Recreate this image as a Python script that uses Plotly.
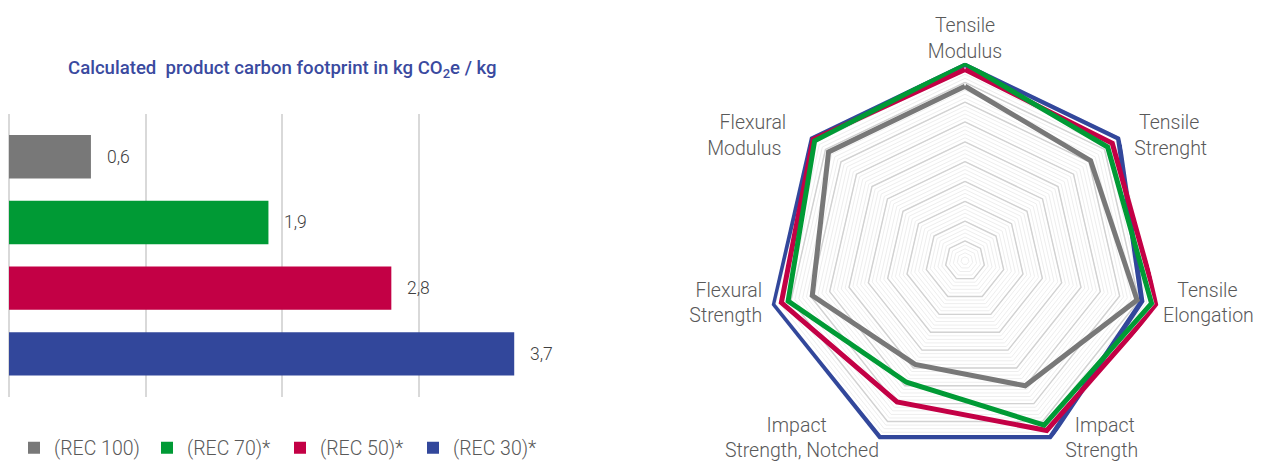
import plotly.graph_objects as go

# ---------------- data ----------------
series_names = ["(REC 100)", "(REC 70)*", "(REC 50)*", "(REC 30)*"]
series_colors = ["#787878", "#009a35", "#c30045", "#32479b"]

# bar chart: calculated product carbon footprint (kg CO2e / kg)
pcf_values = [0.6, 1.9, 2.8, 3.7]

# radar chart: relative property values (0-100)
properties = [
    "Tensile<br>Modulus",
    "Tensile<br>Strenght",
    "Tensile<br>Elongation",
    "Impact<br>Strength",
    "Impact<br>Strength, Notched",
    "Flexural<br>Strength",
    "Flexural<br>Modulus",
]
rec100 = [88, 81, 89, 70, 58, 79, 88]
rec70 = [99.5, 92, 96.5, 92, 68, 91.5, 97]
rec50 = [96.5, 95, 99.5, 95, 79, 95, 98]
rec30 = [99, 99, 91.5, 99, 99, 99.5, 99]
radar_values = [rec100, rec70, rec50, rec30]

FONT = "Roboto, 'Noto Sans', sans-serif"
W, H = 1270, 468
R_MAX = 100      # outer value of the radar grid

fig = go.Figure()

# ---------------- bar chart ----------------
for name, val, col in zip(series_names, pcf_values, series_colors):
    fig.add_trace(go.Bar(
        x=[val], y=[name], orientation="h", name=name,
        marker=dict(color=col, line=dict(width=0)),
        width=0.66, xaxis="x", yaxis="y", showlegend=True,
        hoverinfo="x",
    ))
    fig.add_annotation(
        x=val, y=name, xref="x", yref="y", xanchor="left", yanchor="middle",
        xshift=14, showarrow=False,
        text=f"{val:.1f}".replace(".", ","),
        font=dict(family=FONT, size=17.5, color="#404040", weight=300),
    )

# ---------------- radar chart ----------------
cats_closed = properties + [properties[0]]
for lvl in range(10, R_MAX, 10):
    fig.add_trace(go.Scatterpolar(
        r=[lvl] * (len(properties) + 1), theta=cats_closed, mode="lines",
        line=dict(color="#d2d2d2", width=1.4), hoverinfo="skip",
        showlegend=False, subplot="polar",
    ))

draw_order = [3, 2, 1, 0]
for i in draw_order:
    vals = radar_values[i]
    fig.add_trace(go.Scatterpolar(
        r=vals + [vals[0]], theta=cats_closed, mode="lines",
        name=series_names[i], line=dict(color=series_colors[i], width=5),
        showlegend=False, subplot="polar",
    ))

# category labels placed at the outer ring, nudged outward with spaces
label_pos = ["top center", "middle right", "middle right", "middle right",
             "middle left", "middle left", "middle left"]
label_gap = [0, 3, 1, 3, 0, 2, 5]


def pad_label(txt, pos, n):
    """Push a label away from the ring and roughly centre its lines."""
    lines = txt.split("<br>")
    longest = max(len(ln) for ln in lines)
    out = []
    for ln in lines:
        sp = "\u00a0" * (n + (longest - len(ln)))
        if pos.endswith("right"):
            out.append(sp + ln)
        elif pos.endswith("left"):
            out.append(ln + sp)
        else:
            out.append(ln)
    return "<br>".join(out)


label_text = [pad_label(t, p, n) for t, p, n in zip(properties, label_pos, label_gap)]
fig.add_trace(go.Scatterpolar(
    r=[R_MAX] * len(properties), theta=properties, mode="text",
    text=label_text, textposition=label_pos,
    textfont=dict(family=FONT, size=19.5, color="#595959", weight=300),
    hoverinfo="skip", showlegend=False, subplot="polar", cliponaxis=False,
))

# ---------------- layout ----------------
def px_x(p):
    return p / W


def px_y(p):
    return 1 - p / H


cx, cy, R = 965, 263, 200

fig.update_layout(
    width=W, height=H,
    margin=dict(l=0, r=0, t=0, b=0),
    paper_bgcolor="white", plot_bgcolor="white",
    font=dict(family=FONT, color="#595959"),
    barmode="overlay",
    xaxis=dict(
        domain=[px_x(9), px_x(556)], range=[0, 4.006], dtick=1,
        showgrid=True, gridcolor="#d9d9d9", gridwidth=2,
        zeroline=True, zerolinecolor="#d9d9d9", zerolinewidth=2,
        showticklabels=False, ticks="", showline=False, fixedrange=True,
    ),
    yaxis=dict(
        domain=[px_y(400), px_y(115)], type="category",
        categoryorder="array", categoryarray=series_names,
        range=[3.65, -0.65], showgrid=False, zeroline=False,
        showticklabels=False, ticks="", showline=False, fixedrange=True,
    ),
    polar=dict(
        domain=dict(x=[px_x(cx - R), px_x(cx + R)], y=[px_y(cy + R), px_y(cy - R)]),
        bgcolor="white",
        gridshape="linear",
        radialaxis=dict(
            range=[0, R_MAX], dtick=2,
            showticklabels=False, ticks="",
            showline=False, gridcolor="#eeeeee", gridwidth=1,
        ),
        angularaxis=dict(
            direction="clockwise", rotation=90, showgrid=False, showline=False,
            ticks="", showticklabels=False,
            categoryorder="array", categoryarray=properties,
        ),
    ),
    legend=dict(
        orientation="h", x=px_x(14), xanchor="left", y=px_y(452), yanchor="middle",
        font=dict(family=FONT, size=19.5, color="#595959", weight=300),
        traceorder="normal", itemclick=False, itemdoubleclick=False,
        entrywidth=88, entrywidthmode="pixels",
    ),
    showlegend=True,
)

fig.add_annotation(
    x=px_x(282), y=px_y(70), xref="paper", yref="paper",
    xanchor="center", yanchor="middle", showarrow=False,
    text="Calculated\u00a0 product carbon footprint in kg CO<sub>2</sub>e / kg",
    font=dict(family=FONT, size=18.6, color="#3a4a9f", weight=500),
)

fig.write_html(
    "out.html",
    config={"displayModeBar": False},
    post_script="document.body.style.margin='0px';",
)
